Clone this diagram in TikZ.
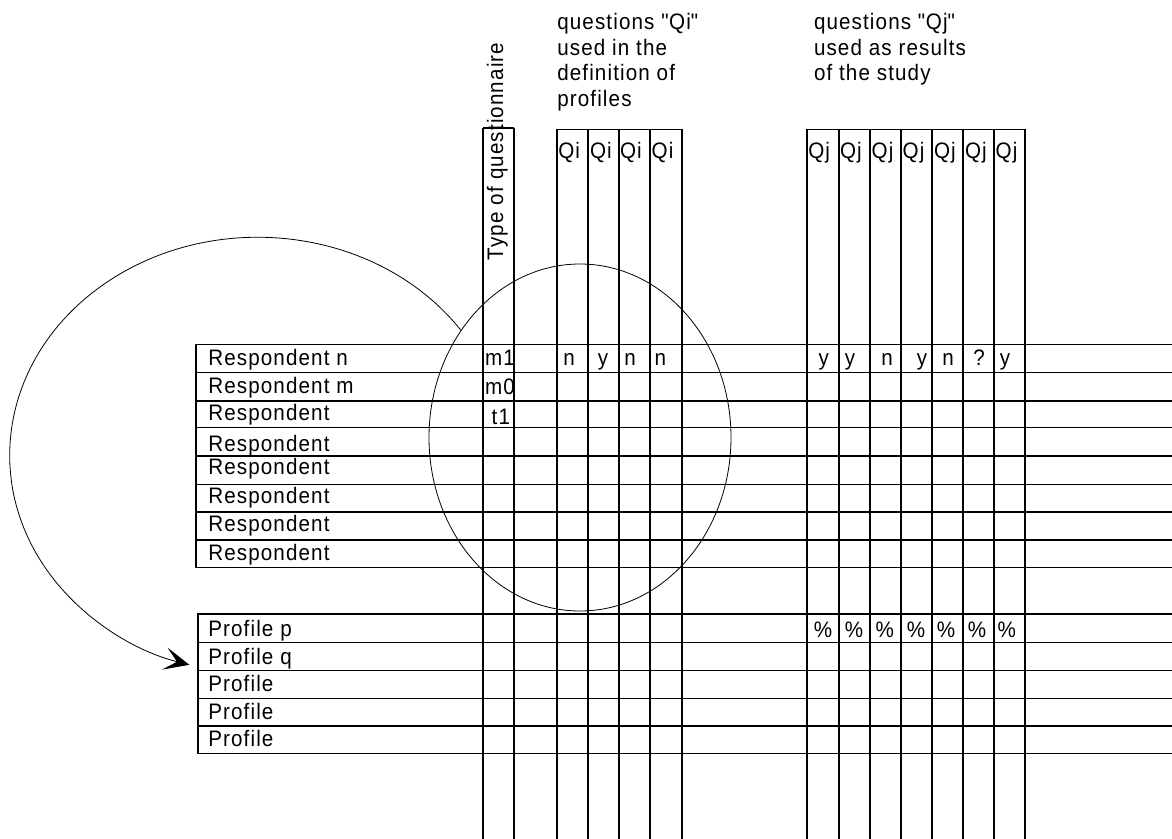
\documentclass[tikz,border=0pt]{standalone}
\usepackage{fontspec}
\setmainfont{Liberation Sans}[FakeStretch=0.92, LetterSpace=5]
\usetikzlibrary{shapes.geometric,arrows.meta}
\newcommand\lblsize{\fontsize{16.8}{19.2}\selectfont}
\begin{document}
\begin{tikzpicture}[x=0.75pt,y=-0.75pt,
  grid/.style={line width=0.8pt, black},
  txt/.style={inner sep=0pt, outer sep=0pt, font=\lblsize},
  thinline/.style={line width=0.6pt, black}]
\useasboundingbox (0,0) rectangle (1172,839);

% ---- column lines ----
\foreach \x in {483,514} \draw[grid] (\x,128) -- (\x,840);
\draw[grid] (483,128) -- (514,128);
\foreach \x in {557,588,619,650,682} \draw[grid] (\x,129.3) -- (\x,840);
\draw[grid] (557,129.3) -- (682,129.3);
\foreach \x in {807,839,870,901,932,963,994,1025} \draw[grid] (\x,129.3) -- (\x,840);
\draw[grid] (807,129.3) -- (1025,129.3);

% ---- respondent rows ----
\draw[grid] (1174,344.3) -- (196,344.3) -- (196,567.7) -- (1174,567.7);
\foreach \y in {372.7,401,427.7,456,484.3,512,540} \draw[grid] (196,\y) -- (1174,\y);

% ---- profile rows ----
\draw[grid] (1174,614) -- (198,614) -- (198,753.3) -- (1174,753.3);
\foreach \y in {642.7,670.7,698.3,726} \draw[grid] (198,\y) -- (1174,\y);

% ---- headers ----
\node[txt, rotate=90, anchor=base west] (type) at (503,260) {Type of questionnaire};

\node[txt, anchor=base west] (hqi1) at (557.3,29.3) {questions \textquotedbl Qi\textquotedbl};
\node[txt, anchor=base west] (hqi2) at (557.3,55) {used in the};
\node[txt, anchor=base west] (hqi3) at (557.3,80.7) {definition of};
\node[txt, anchor=base west] (hqi4) at (557.3,106.3) {profiles};

\node[txt, anchor=base west] (hqj1) at (814,29.3) {questions \textquotedbl Qj\textquotedbl};
\node[txt, anchor=base west] (hqj2) at (814,55) {used as results};
\node[txt, anchor=base west] (hqj3) at (814,80.7) {of the study};

\foreach \x [count=\i] in {558.3,590,620,651.7}
  \node[txt, anchor=base west] (qi\i) at (\x,158.3) {Qi};
\foreach \x [count=\i] in {808.3,840,871.7,902.7,934,965,995.7}
  \node[txt, anchor=base west] (qj\i) at (\x,158.3) {Qj};

% ---- row labels ----
\node[txt, anchor=base west] (r1) at (208.3,365) {Respondent n};
\node[txt, anchor=base west] (r2) at (208.3,393.3) {Respondent m};
\foreach \y [count=\i from 3] in {420.7,451.7,474.3,503.3,531,560}
  \node[txt, anchor=base west] (r\i) at (208.3,\y) {Respondent};

\node[txt, anchor=base west] (p1) at (208.3,636) {Profile p};
\node[txt, anchor=base west] (p2) at (208.3,664) {Profile q};
\foreach \y [count=\i from 3] in {691.7,719,746.7}
  \node[txt, anchor=base west] (p\i) at (208.3,\y) {Profile};

% ---- cell values ----
\node[txt, anchor=base west] (tm1) at (485,365.7) {m1};
\node[txt, anchor=base west] (tm0) at (485,394) {m0};
\node[txt, anchor=base west] (tt1) at (491.7,424.3) {t1};

\foreach \x/\v [count=\i] in {569/n,603/y,630/n,660.3/n}
  \node[txt, anchor=base] (vi\i) at (\x,365.7) {\v};
\foreach \x/\v [count=\i] in {823.8/y,850/y,887/n,922/y,948/n,979/?,1005/y}
  \node[txt, anchor=base] (vj\i) at (\x,365.7) {\v};
\foreach \x [count=\i] in {823,854,884.7,916,946,977,1006.7}
  \node[txt, anchor=base] (pc\i) at (\x,637.3) {\%};

% ---- selection ellipse and arrow ----
\node[draw, thinline, ellipse, inner sep=0pt, minimum width=226.5pt, minimum height=260.25pt] (sel) at (580,437.5) {};
\coordinate (arcstart) at (sel.138);
\draw[thinline, -{Stealth[length=19pt, width=17pt, inset=9.5pt]}]
  (arcstart) arc[start angle=35, end angle=254, x radius=186pt, y radius=163.5pt];
\end{tikzpicture}
\end{document}
